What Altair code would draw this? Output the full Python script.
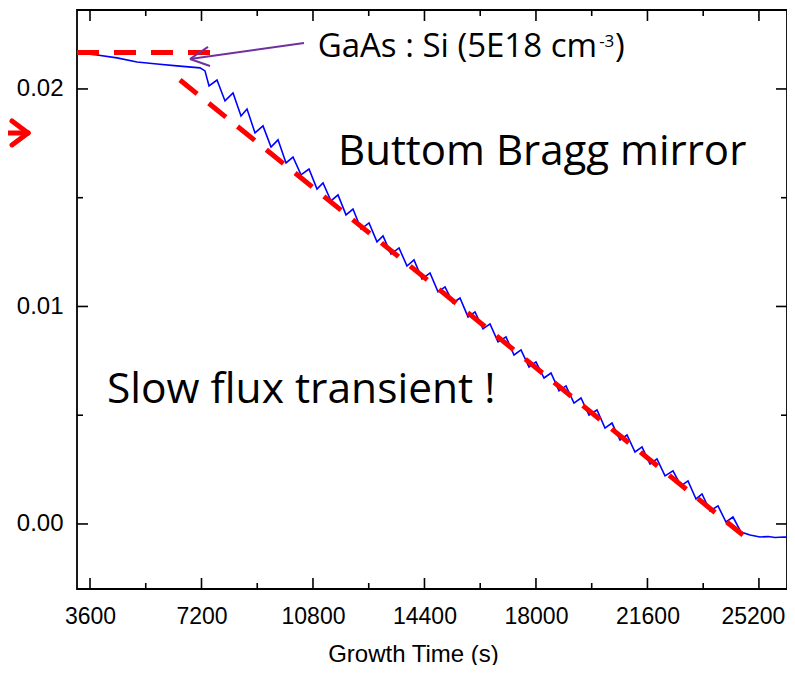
import altair as alt
import pandas as pd

# ---------------- data ----------------
x_major = [3600, 7200, 10800, 14400, 18000, 21600, 25200]
x_minor = [5400, 9000, 12600, 16200, 19800, 23400]
y_major = [0.0, 0.01, 0.02]
y_minor = [0.005, 0.015]

early_t = [3180, 3826, 4472, 5118, 5763, 6409, 7152, 7313]
early_v = [0.02166, 0.02156, 0.02143, 0.02124, 0.02115, 0.02106, 0.02097, 0.02083]

bump_t = [7701, 8218, 8670, 9186, 9671, 10155, 10672, 11124, 11608, 12092,
          12609, 13061, 13578, 14062, 14579, 15063, 15547, 16032, 16516, 17033,
          17517, 18001, 18486, 18970, 19454, 19971, 20455, 20940, 21424, 21908,
          22425, 22909, 23362, 23878, 24362]
bump_v = [0.02041, 0.01982, 0.01908, 0.01830, 0.01766, 0.01687, 0.01632, 0.01568, 0.01513, 0.01448,
          0.01384, 0.01324, 0.01269, 0.01214, 0.01154, 0.01090, 0.01039, 0.00975, 0.00920, 0.00860,
          0.00800, 0.00745, 0.00694, 0.00635, 0.00579, 0.00524, 0.00464, 0.00409, 0.00354, 0.00299,
          0.00244, 0.00198, 0.00138, 0.00083, 0.00032]

dip_t = [7443, 7959, 8476, 8928, 9445, 9929, 10413, 10930, 11382, 11866,
         12351, 12867, 13319, 13836, 14320, 14837, 15321, 15806, 16290, 16774,
         17291, 17775, 18260, 18744, 19228, 19713, 20229, 20714, 21198, 21682,
         22167, 22683, 23168, 23620, 24136, 24621]
dip_v = [0.02014, 0.01945, 0.01876, 0.01798, 0.01733, 0.01660, 0.01605, 0.01540, 0.01485, 0.01421,
         0.01356, 0.01297, 0.01241, 0.01186, 0.01126, 0.01067, 0.01016, 0.00952, 0.00897, 0.00837,
         0.00777, 0.00722, 0.00671, 0.00612, 0.00556, 0.00501, 0.00441, 0.00386, 0.00331, 0.00276,
         0.00221, 0.00175, 0.00115, 0.00060, 0.00009, -0.00037]

tail_t = [24911, 25234, 25500, 25719, 26000, 26332]
tail_v = [-0.00051, -0.00060, -0.00058, -0.00062, -0.00060, -0.00061]

# red dashed guide lines (two straight segments)
guide_seg = ["flat", "flat", "slope", "slope"]
guide_t = [3180, 7475, 6506, 24685]
guide_v = [0.02168, 0.02168, 0.02041, -0.00051]

# purple annotation arrow (shaft + two head strokes)
parrow_t = [10510, 6829, 6829]
parrow_v = [0.022115, 0.021379, 0.021379]
parrow_t2 = [6829, 7410, 7475]
parrow_v2 = [0.021379, 0.021931, 0.021057]

# red arrow in the left margin
rarrow_t = [700, 1081, 1081]
rarrow_v = [0.017977, 0.018529, 0.017425]
rarrow_t2 = [1598, 1598, 1598]
rarrow_v2 = [0.017977, 0.017977, 0.017977]

labels_text = ["Buttom Bragg mirror", "Slow flux transient !"]
labels_t = [11608, 4149]
labels_v = [0.016506, 0.005563]
labels_size = [42, 42.5]

gaas_text = "GaAs : Si (5E18 cm"
gaas_t, gaas_v = 19971, 0.021471
sup_text, sup_t, sup_v = "-3", 20040, 0.021931
close_text, close_t, close_v = ")", 20552, 0.021471

# ---------------- build tables ----------------
ct, cv = list(early_t), list(early_v)
ct.append(dip_t[0]); cv.append(dip_v[0])
for i in range(len(bump_t)):
    ct += [bump_t[i], dip_t[i + 1]]
    cv += [bump_v[i], dip_v[i + 1]]
ct += tail_t; cv += tail_v
curve = pd.DataFrame({"t": ct, "v": cv, "i": range(len(ct))})

guides = pd.DataFrame({"t": guide_t, "v": guide_v, "seg": guide_seg})
parrow = pd.DataFrame({"t": parrow_t, "v": parrow_v, "t2": parrow_t2, "v2": parrow_v2})
rarrow = pd.DataFrame({"t": rarrow_t, "v": rarrow_v, "t2": rarrow_t2, "v2": rarrow_v2})
labels = pd.DataFrame({"t": labels_t, "v": labels_v, "txt": labels_text, "fs": labels_size})

W, H = 710, 579
xs = alt.Scale(domain=[3180, 26106], nice=False, zero=False)
ys = alt.Scale(domain=[-0.00299, 0.02363], nice=False, zero=False)

xaxis = alt.Axis(values=x_major, format="d", ticks=False, tickSize=0, domain=False, grid=False,
                 labelFont="Liberation Sans", labelFontSize=23, labelColor="black",
                 labelPadding=16, labelFlush=False,
                 labelOffset={"condition": {"test": "datum.value == 25200", "value": -6}, "value": 0},
                 title="Growth Time (s)", titleFont="Liberation Sans", titleFontSize=24,
                 titleFontWeight="normal", titleColor="black",
                 titleX=336, titleY=72, titleAlign="center", titleBaseline="alphabetic")
yaxis = alt.Axis(values=y_major, format=".2f", ticks=False, tickSize=0, domain=False, grid=False,
                 labelFont="Liberation Sans", labelFontSize=24, labelColor="black",
                 labelPadding=14, labelFlush=False, title="")

X = alt.X("t:Q", scale=xs, axis=xaxis)
Y = alt.Y("v:Q", scale=ys, axis=yaxis)

line = alt.Chart(curve).mark_line(color="#0000FF", strokeWidth=1.6, clip=True).encode(
    x=X, y=Y, order="i:Q")

guide = alt.Chart(guides).mark_line(color="#FF0000", strokeWidth=5, strokeDash=[22, 15],
                                    strokeCap="butt").encode(x=X, y=Y, detail="seg:N")

pa = alt.Chart(parrow).mark_rule(color="#7030A0", strokeWidth=2).encode(
    x=X, x2="t2:Q", y=Y, y2="v2:Q")
ra = alt.Chart(rarrow).mark_rule(color="#FF0000", strokeWidth=5, strokeCap="round").encode(
    x=X, x2="t2:Q", y=Y, y2="v2:Q")

big = alt.Chart(labels).mark_text(align="left", baseline="alphabetic", font="Open Sans",
                                  color="black").encode(
    x=X, y=Y, text="txt:N", size=alt.Size("fs:Q", scale=None, legend=None))

gaas = alt.Chart(pd.DataFrame({"t": [gaas_t], "v": [gaas_v], "txt": [gaas_text]})).mark_text(
    align="right", baseline="alphabetic", font="Open Sans", fontSize=33, color="black"
).encode(x=X, y=Y, text="txt:N")
sup = alt.Chart(pd.DataFrame({"t": [sup_t], "v": [sup_v], "txt": [sup_text]})).mark_text(
    align="left", baseline="alphabetic", font="Open Sans", fontSize=17, color="black"
).encode(x=X, y=Y, text="txt:N")
close = alt.Chart(pd.DataFrame({"t": [close_t], "v": [close_v], "txt": [close_text]})).mark_text(
    align="left", baseline="alphabetic", font="Open Sans", fontSize=33, color="black"
).encode(x=X, y=Y, text="txt:N")

# inward ticks on all four sides
xmaj = pd.DataFrame({"t": x_major})
xmin = pd.DataFrame({"t": x_minor})
ymaj = pd.DataFrame({"v": y_major})
ymin = pd.DataFrame({"v": y_minor})
tk = dict(color="black", strokeWidth=1.6)
ticks = [
    alt.Chart(xmaj).mark_rule(**tk).encode(x=X, y=alt.value(H), y2=alt.value(H - 11)),
    alt.Chart(xmaj).mark_rule(**tk).encode(x=X, y=alt.value(0), y2=alt.value(11)),
    alt.Chart(xmin).mark_rule(**tk).encode(x=X, y=alt.value(H), y2=alt.value(H - 6)),
    alt.Chart(xmin).mark_rule(**tk).encode(x=X, y=alt.value(0), y2=alt.value(6)),
    alt.Chart(ymaj).mark_rule(**tk).encode(y=Y, x=alt.value(0), x2=alt.value(11)),
    alt.Chart(ymaj).mark_rule(**tk).encode(y=Y, x=alt.value(W), x2=alt.value(W - 11)),
    alt.Chart(ymin).mark_rule(**tk).encode(y=Y, x=alt.value(0), x2=alt.value(6)),
    alt.Chart(ymin).mark_rule(**tk).encode(y=Y, x=alt.value(W), x2=alt.value(W - 6)),
]

chart = alt.layer(line, guide, pa, ra, big, gaas, sup, close, *ticks).properties(
    width=W, height=H,
    background="white",
    padding={"left": 69, "top": 2, "right": 0, "bottom": 76},
    autosize=alt.AutoSizeParams(type="none"),
).configure_view(stroke="#000000", strokeWidth=1.8)

chart.save("out.html", embed_options={"renderer": "svg", "actions": False})
